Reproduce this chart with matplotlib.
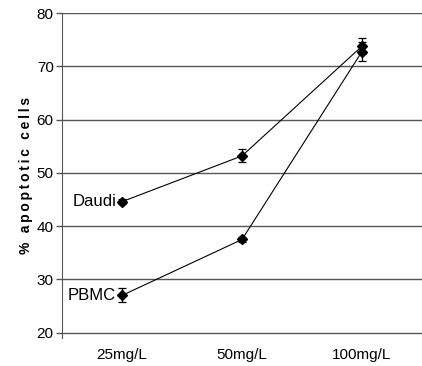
import matplotlib
matplotlib.use("Agg")
import matplotlib.pyplot as plt

plt.rcParams['font.family'] = ['Liberation Sans', 'DejaVu Sans']

doses = ["25mg/L", "50mg/L", "100mg/L"]
daudi = [44.6, 53.2, 73.8]
daudi_err = [0.5, 1.2, 1.5]
pbmc = [27.0, 37.5, 72.8]
pbmc_err = [1.3, 0.5, 1.8]

fig = plt.figure(figsize=(4.22, 3.66), dpi=100)
ax = fig.add_axes([0.147, 0.0765, 0.853, 0.8875])

x = list(range(len(doses)))
for vals, errs, name in [(daudi, daudi_err, "Daudi"), (pbmc, pbmc_err, "PBMC")]:
    ax.errorbar(x, vals, yerr=errs, color="black", lw=0.8, marker="D",
                markersize=5.5, elinewidth=0.9, capsize=3, capthick=0.9, zorder=3)
    ax.text(x[0] - 0.05, vals[0], name, ha="right", va="center", fontsize=12)

ax.set_xlim(-0.5, 2.5)
ax.set_ylim(19, 80)
ax.set_yticks(range(20, 81, 10))
ax.yaxis.grid(True, color="#555555", lw=1.0)
ax.set_axisbelow(True)
ax.set_xticks(x)
ax.set_xticklabels(doses, fontsize=11)
ax.tick_params(axis="x", length=0, pad=7)
ax.tick_params(axis="y", length=4, width=1, color="#555555", labelsize=11, pad=2)
for s in ["top", "right", "bottom"]:
    ax.spines[s].set_visible(False)
ax.spines["left"].set_color("#555555")
ylab = "\u2009 \u2009".join("\u2009".join(w) for w in "% apoptotic cells".split(" "))
ax.set_ylabel(ylab, fontsize=10, fontweight="bold", labelpad=3)

fig.savefig("out.png", dpi=100)
